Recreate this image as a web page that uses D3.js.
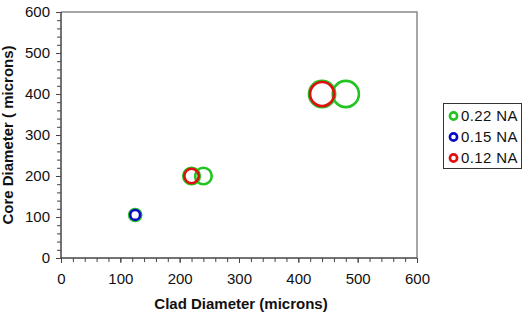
<!DOCTYPE html>
<html>
<head>
<meta charset="utf-8">
<script src="https://cdn.jsdelivr.net/npm/d3@7"></script>
<style>
  html, body { margin: 0; padding: 0; background: #fff; }
  svg { display: block; font-family: "Liberation Sans", Arial, sans-serif; }
</style>
</head>
<body>
<svg id="chart" width="529" height="318"></svg>
<script>
// ---- data ----
const seriesNames = ["0.22 NA", "0.15 NA", "0.12 NA"];
const seriesColors = ["#22c422", "#0a0ac8", "#e01010"];
const cladNA22 = [125, 220, 240, 440, 480];
const coreNA22 = [105, 200, 200, 400, 400];
const cladNA15 = [125];
const coreNA15 = [105];
const cladNA12 = [220, 440];
const coreNA12 = [200, 400];
const xTickValues = [0, 100, 200, 300, 400, 500, 600];
const yTickValues = [0, 100, 200, 300, 400, 500, 600];
const xTitle = "Clad Diameter (microns)";
const yTitle = "Core Diameter ( microns)";

// ---- layout ----
const svg = d3.select("#chart");
const plot = { left: 61, right: 417, top: 12, bottom: 258 };

const x = d3.scaleLinear().domain([0, 600]).range([plot.left, plot.right]);
const y = d3.scaleLinear().domain([0, 600]).range([plot.bottom, plot.top]);
const size = d3.scaleLinear().domain([100, 400]).range([4.8, 12]);

// frame (top & right)
svg.append("path")
  .attr("d", `M${plot.left},${plot.top}H${plot.right}V${plot.bottom}`)
  .attr("fill", "none").attr("stroke", "#8a8a8a").attr("stroke-width", 1.5);

const minor = d3.range(0, 601, 20);
const axisColor = "#444";

const yAxisG = svg.append("g").attr("transform", `translate(${plot.left},0)`);
yAxisG.call(d3.axisLeft(y).tickValues(minor).tickSize(4).tickFormat(""));
yAxisG.selectAll(".tick line").attr("stroke", axisColor);
const yMajor = svg.append("g").attr("transform", `translate(${plot.left},0)`)
  .call(d3.axisLeft(y).tickValues(yTickValues).tickSize(5).tickPadding(6).tickFormat(d3.format("d")));
yMajor.selectAll(".tick line").attr("stroke", axisColor);
yMajor.selectAll(".tick text").attr("font-size", 15).attr("fill", "#111")
  .attr("font-family", "Liberation Sans, Arial, sans-serif");
svg.selectAll(".domain").remove();

const xAxisG = svg.append("g").attr("transform", `translate(0,${plot.bottom})`);
xAxisG.call(d3.axisBottom(x).tickValues(minor).tickSize(4).tickFormat(""));
xAxisG.selectAll(".tick line").attr("stroke", axisColor);
const xMajor = svg.append("g").attr("transform", `translate(0,${plot.bottom})`)
  .call(d3.axisBottom(x).tickValues(xTickValues).tickSize(5).tickPadding(10).tickFormat(d3.format("d")));
xMajor.selectAll(".tick line").attr("stroke", axisColor);
xMajor.selectAll(".tick text").attr("font-size", 15).attr("fill", "#111")
  .attr("font-family", "Liberation Sans, Arial, sans-serif");
svg.selectAll(".domain").remove();

// axis lines
svg.append("line").attr("x1", plot.left).attr("x2", plot.left)
  .attr("y1", plot.top).attr("y2", plot.bottom)
  .attr("stroke", axisColor).attr("stroke-width", 1.5);
svg.append("line").attr("x1", plot.left).attr("x2", plot.right)
  .attr("y1", plot.bottom).attr("y2", plot.bottom)
  .attr("stroke", axisColor).attr("stroke-width", 1.5);

// titles
svg.append("text")
  .attr("x", (plot.left + plot.right) / 2 + 2).attr("y", 309)
  .attr("text-anchor", "middle").attr("font-size", 15).attr("font-weight", "bold")
  .attr("fill", "#111").text(xTitle);
svg.append("text")
  .attr("transform", `translate(13,${(plot.top + plot.bottom) / 2}) rotate(-90)`)
  .attr("text-anchor", "middle").attr("font-size", 15).attr("font-weight", "bold")
  .attr("fill", "#111").text(yTitle);

// bubbles
const seriesData = [
  { name: seriesNames[0], color: seriesColors[0], clad: cladNA22, core: coreNA22, extra: 1.1 },
  { name: seriesNames[1], color: seriesColors[1], clad: cladNA15, core: coreNA15, extra: 0 },
  { name: seriesNames[2], color: seriesColors[2], clad: cladNA12, core: coreNA12, extra: 0 }
];
seriesData.forEach(s => {
  const pts = s.clad.map((c, k) => ({ clad: c, core: s.core[k] }));
  svg.append("g").selectAll("circle").data(pts).join("circle")
    .attr("cx", d => x(d.clad)).attr("cy", d => y(d.core))
    .attr("r", d => size(d.core) + s.extra)
    .attr("fill", "none").attr("stroke", s.color).attr("stroke-width", 2.6);
});

// legend
const lg = svg.append("g");
lg.append("rect").attr("x", 443.5).attr("y", 103.5).attr("width", 78).attr("height", 65)
  .attr("fill", "#fff").attr("stroke", "#333").attr("stroke-width", 1);
seriesData.forEach((s, i) => {
  const cy = 116 + i * 21;
  lg.append("circle").attr("cx", 453.5).attr("cy", cy).attr("r", 3.6)
    .attr("fill", "none").attr("stroke", s.color).attr("stroke-width", 2.6);
  lg.append("text").attr("x", 461).attr("y", cy).attr("dy", "0.35em")
    .attr("font-size", 15).attr("fill", "#111").attr("letter-spacing", 0.4).text(s.name);
});
</script>
</body>
</html>
